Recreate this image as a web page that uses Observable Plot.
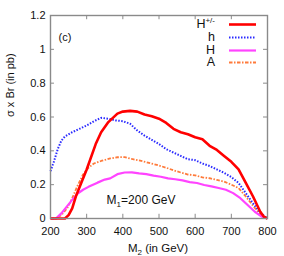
<!DOCTYPE html>
<html>
<head>
<meta charset="utf-8">
<script src="https://cdn.jsdelivr.net/npm/d3@7"></script>
<script src="https://cdn.jsdelivr.net/npm/@observablehq/plot@0.6"></script>
<style>
  html, body { margin: 0; padding: 0; background: #fff; }
  #wrap { position: relative; width: 284px; height: 256px; font-family: "Liberation Sans", Arial, sans-serif; }
  #legend { position: absolute; left: 150px; top: 0; width: 110px; height: 80px; }
  #legend .row { position: absolute; right: 0; height: 11px; display: flex; align-items: center; }
  #legend .lab { font-size: 12.5px; color: #111; text-align: right; margin-right: 14px; line-height: 11px; }
  #legend sup { font-size: 8px; vertical-align: 5px; line-height: 0; }
  #legend svg { display: block; }
</style>
</head>
<body>
<div id="wrap"></div>
<script>
// ---- data ----
const massHc = [200,220,240,250,260,270,283,300,325,340,360,385,400,420,440,460,480,500,520,540,560,580,600,620,640,660,680,700,720,740,760,780,790,800];
const sigHc  = [0,0,0,0.02,0.06,0.13,0.20,0.29,0.44,0.51,0.57,0.62,0.632,0.636,0.632,0.615,0.605,0.59,0.565,0.53,0.51,0.498,0.48,0.468,0.43,0.405,0.37,0.335,0.29,0.21,0.13,0.04,0.01,0];

const massh = [200,210,220,230,240,260,280,300,320,340,360,380,400,420,440,460,480,500,520,540,560,580,600,620,640,660,680,700,720,740,760,780,800];
const sigh  = [0.28,0.34,0.41,0.46,0.485,0.51,0.53,0.55,0.575,0.595,0.59,0.58,0.575,0.56,0.52,0.49,0.465,0.44,0.41,0.39,0.37,0.35,0.345,0.325,0.31,0.29,0.27,0.245,0.21,0.15,0.09,0.035,0];

const massH = [200,215,230,245,260,274,290,305,330,350,365,385,405,425,445,465,485,505,525,545,565,585,605,625,645,665,685,705,725,745,765,785,800];
const sigH  = [0,0,0.03,0.07,0.11,0.145,0.17,0.187,0.212,0.23,0.237,0.262,0.272,0.273,0.267,0.262,0.253,0.247,0.237,0.232,0.225,0.215,0.21,0.198,0.19,0.18,0.17,0.15,0.12,0.08,0.04,0.01,0];

const massA = [200,215,230,246,260,274,290,305,320,340,365,385,405,425,445,465,485,505,520,540,560,580,600,620,640,660,680,700,720,740,760,780,800];
const sigA  = [0,0,0.02,0.06,0.12,0.19,0.26,0.30,0.325,0.34,0.355,0.362,0.363,0.352,0.343,0.333,0.322,0.31,0.30,0.285,0.272,0.26,0.255,0.243,0.238,0.228,0.218,0.20,0.18,0.13,0.075,0.025,0];

const xTicks = [200,300,400,500,600,700,800];
const yTicks = [0,0.2,0.4,0.6,0.8,1,1.2];
const yTickLabels = ["0","0.2","0.4","0.6","0.8","1","1.2"];

const series = [
  {key: "Hc", label: "H<sup>+/-</sup>", mass: massHc, sig: sigHc, color: "#ff0000", width: 2.6, dash: null},
  {key: "h",  label: "h", mass: massh, sig: sigh, color: "#2a2aff", width: 2, dash: "1.5,1.5"},
  {key: "H",  label: "H", mass: massH, sig: sigH, color: "#ff44ff", width: 2.2, dash: null},
  {key: "A",  label: "A", mass: massA, sig: sigA, color: "#ff7a3a", width: 1.8, dash: "3.5,1.5,1.5,1.5"}
];

const toRows = s => s.mass.map((m, i) => ({m, v: s.sig[i]}));
const frameColor = "#8a8a8a";

const chart = Plot.plot({
  width: 284,
  height: 256,
  marginLeft: 50,
  marginRight: 17,
  marginTop: 15,
  marginBottom: 38,
  style: {fontFamily: "Liberation Sans, Arial, sans-serif", fontSize: "11px", color: "#111", background: "#fff"},
  x: {domain: [200, 800]},
  y: {domain: [0, 1.2]},
  marks: [
    ...series.slice().reverse().map(s => {
      const o = {x: "m", y: "v", stroke: s.color, strokeWidth: s.width, strokeLinejoin: "round", strokeLinecap: "butt"};
      if (s.dash) o.strokeDasharray = s.dash;
      return Plot.line(toRows(s), o);
    }),
    Plot.frame({stroke: frameColor, strokeWidth: 1.4}),
    // inward ticks on all four sides
    Plot.ruleX(xTicks, {x: d => d, y1: 0, y2: 0.025, stroke: frameColor}),
    Plot.ruleX(xTicks, {x: d => d, y1: 1.2, y2: 1.175, stroke: frameColor}),
    Plot.ruleY(yTicks, {y: d => d, x1: 200, x2: 211, stroke: frameColor}),
    Plot.ruleY(yTicks, {y: d => d, x1: 800, x2: 789, stroke: frameColor}),
    Plot.axisX({ticks: xTicks, tickSize: 0, tickPadding: 9, tickFormat: d => String(d), label: null, fontSize: 11}),
    Plot.axisY({ticks: yTicks, tickSize: 0, tickPadding: 5, tickFormat: (d, i) => yTickLabels[i], label: null, fontSize: 11}),
    Plot.text(["(c)"], {frameAnchor: "top-left", dx: 8, dy: 18, fontSize: 11, fill: "#111", textAnchor: "start"}),
    Plot.text(["σ x Br (in pb)"], {frameAnchor: "left", dx: -40, rotate: -90, fontSize: 11, fill: "#111"})
  ]
});

const wrap = document.getElementById("wrap");
wrap.appendChild(chart);

// sub/superscript texts added as real SVG text
const svg = d3.select(chart);
const font = "Liberation Sans, Arial, sans-serif";
const t1 = svg.append("text").attr("x", 141).attr("y", 204).attr("font-size", 12).attr("fill", "#111").attr("font-family", font);
t1.append("tspan").text("M");
t1.append("tspan").attr("dy", 3).attr("font-size", 8).text("1");
t1.append("tspan").attr("dy", -3).text("=200 GeV");

const t2 = svg.append("text").attr("x", 158).attr("y", 252).attr("text-anchor", "middle").attr("font-size", 11.5).attr("fill", "#111").attr("font-family", font);
t2.append("tspan").text("M");
t2.append("tspan").attr("dy", 3).attr("font-size", 8).text("2");
t2.append("tspan").attr("dy", -3).text(" (in GeV)");

// legend
const legend = document.createElement("div");
legend.id = "legend";
const rowY = [24, 37, 50, 62.5];
series.forEach((s, i) => {
  const row = document.createElement("div");
  row.className = "row";
  row.style.top = (rowY[i] - 5.5) + "px";
  row.style.right = "4px";
  const lab = document.createElement("span");
  lab.className = "lab";
  lab.innerHTML = s.label;
  row.appendChild(lab);
  const sv = d3.create("svg").attr("width", 27).attr("height", 11);
  sv.append("line").attr("x1", 0).attr("x2", 27).attr("y1", 5.5).attr("y2", 5.5)
    .attr("stroke", s.color).attr("stroke-width", s.width)
    .attr("stroke-dasharray", s.dash || null);
  row.appendChild(sv.node());
  legend.appendChild(row);
});
wrap.appendChild(legend);
</script>
</body>
</html>
